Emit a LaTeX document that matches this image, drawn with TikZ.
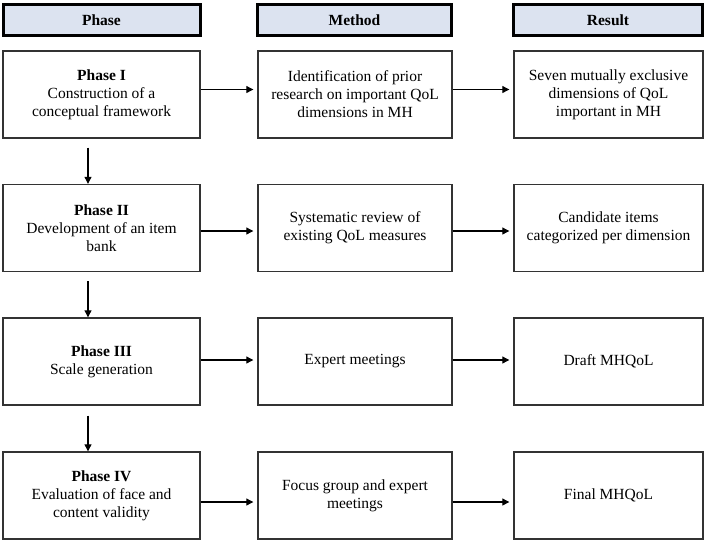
\documentclass[tikz,border=0pt]{standalone}
\usepackage{fontspec}
\setmainfont{Liberation Serif}
\usetikzlibrary{arrows.meta}
\definecolor{hdrfill}{HTML}{DCE3F0}
\definecolor{boxline}{HTML}{333333}
\begin{document}
\begin{tikzpicture}[x=1pt,y=-1pt,
  hdr/.style={draw=black,line width=3pt,fill=hdrfill,inner sep=0pt,
    minimum height=31pt,font=\fontsize{15.5}{18}\selectfont\bfseries,align=center},
  box/.style={draw=boxline,line width=1.4pt,fill=white,inner sep=0pt,
    minimum height=87pt,font=\fontsize{15.5}{18}\selectfont,align=center},
  pw/.style={minimum width=197pt},
  mw/.style={minimum width=194pt},
  rw/.style={minimum width=189pt},
  arr/.style={-{Triangle[length=7pt,width=7pt]},line width=1.1pt,black}]
\useasboundingbox (0,0) rectangle (708,544);
% headers
\node[hdr,pw] (hp) at (101.5,20) {Phase};
\node[hdr,mw] (hm) at (354.5,20) {Method};
\node[hdr,rw] (hr) at (608,20) {Result};
% row 1
\node[box,pw] (p1) at (101.5,94.5) {\textbf{Phase I}\\Construction of a\\conceptual framework};
\node[box,mw] (m1) at (355,94.5) {Identification of prior\\research on important QoL\\dimensions in MH};
\node[box,rw] (r1) at (608.5,94.5) {Seven mutually exclusive\\dimensions of QoL\\important in MH};
% row 2
\node[box,pw] (p2) at (101.5,228) {\textbf{Phase II}\\Development of an item\\bank};
\node[box,mw] (m2) at (355,228) {Systematic review of\\existing QoL measures};
\node[box,rw] (r2) at (608.5,228) {Candidate items\\categorized per dimension};
% row 3
\node[box,pw] (p3) at (101.5,361.5) {\textbf{Phase III}\\Scale generation};
\node[box,mw] (m3) at (355,361.5) {Expert meetings};
\node[box,rw] (r3) at (608.5,361.5) {Draft MHQoL};
% row 4
\node[box,pw] (p4) at (101.5,495.5) {\textbf{Phase IV}\\Evaluation of face and\\content validity};
\node[box,mw] (m4) at (355,495.5) {Focus group and expert\\meetings};
\node[box,rw] (r4) at (608.5,495.5) {Final MHQoL};
% horizontal arrows
\draw[arr,shorten >=4pt] ([yshift=5pt]p1.east) -- ([yshift=5pt]m1.west);
\draw[arr,shorten >=4pt] ([yshift=5pt]m1.east) -- ([yshift=5pt]r1.west);
\draw[arr,shorten >=4pt] ([yshift=-3pt]p2.east) -- ([yshift=-3pt]m2.west);
\draw[arr,shorten >=4pt] ([yshift=-3pt]m2.east) -- ([yshift=-3pt]r2.west);
\draw[arr,shorten >=4pt] ([yshift=1.5pt]p3.east) -- ([yshift=1.5pt]m3.west);
\draw[arr,shorten >=4pt] ([yshift=1.5pt]m3.east) -- ([yshift=1.5pt]r3.west);
\draw[arr,shorten >=4pt] ([yshift=-6.5pt]p4.east) -- ([yshift=-6.5pt]m4.west);
\draw[arr,shorten >=4pt] ([yshift=-6.5pt]m4.east) -- ([yshift=-6.5pt]r4.west);
% vertical arrows
\draw[arr,shorten <=9pt] ([xshift=-13.5pt]p1.south) -- ([xshift=-13.5pt]p2.north);
\draw[arr,shorten <=9pt] ([xshift=-13.5pt]p2.south) -- ([xshift=-13.5pt]p3.north);
\draw[arr,shorten <=10pt] ([xshift=-13.5pt]p3.south) -- ([xshift=-13.5pt]p4.north);
\end{tikzpicture}
\end{document}
